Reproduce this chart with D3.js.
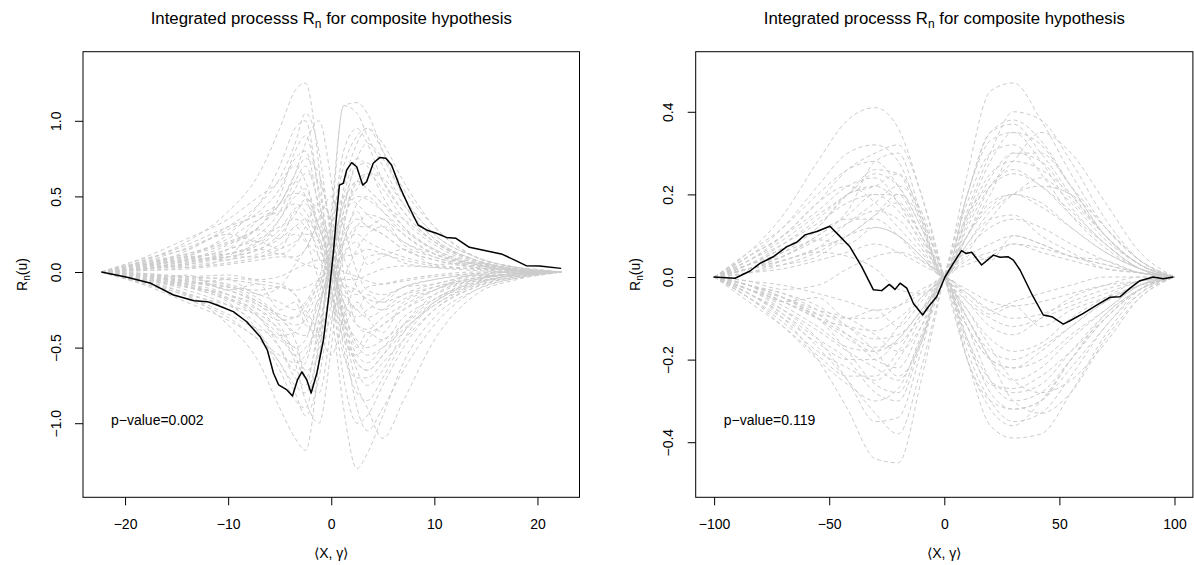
<!DOCTYPE html>
<html>
<head>
<meta charset="utf-8">
<script src="https://cdn.jsdelivr.net/npm/d3@7"></script>
<style>
body { margin: 0; background: #fff; }
svg { display: block; font-family: "Liberation Sans", Arial, Helvetica, sans-serif; }
</style>
</head>
<body>
<div class="container"></div>
<script>
// ---- left panel data ----
var leftGrid = [-22.3, -18, -14, -10, -7, -5, -3.5, -2.5, -1.2, 0, 1.2, 2.5, 3.5, 5, 7, 10, 14, 18, 22.3];

var leftBoot = [
    [0, 0.08, 0.2, 0.4, 0.65, 0.95, 1.2, 1.25, 0.7, -0.2, -0.9, -1.3, -1.2, -0.95, -0.6, -0.3, -0.12, -0.04, 0],
    [0, -0.06, -0.15, -0.35, -0.6, -0.9, -1.1, -1.18, -0.6, 0.3, 1.1, 1.05, 0.9, 0.7, 0.45, 0.22, 0.08, 0.02, 0],
    [0, 0.05, 0.1, 0.25, 0.45, 0.7, 0.95, 1.0, 0.5, -0.1, -0.7, -1.0, -0.95, -0.75, -0.5, -0.25, -0.1, -0.03, 0],
    [0, -0.04, -0.1, -0.2, -0.4, -0.65, -0.85, -0.9, -0.45, 0.2, 0.8, 0.95, 0.85, 0.6, 0.4, 0.2, 0.07, 0.02, 0],
    [0, 0.1, 0.22, 0.35, 0.5, 0.6, 0.7, 0.6, 0.3, 0, -0.4, -0.6, -0.65, -0.55, -0.4, -0.2, -0.08, -0.02, 0],
    [0, -0.08, -0.18, -0.3, -0.45, -0.55, -0.6, -0.55, -0.25, 0.1, 0.45, 0.6, 0.55, 0.45, 0.3, 0.15, 0.05, 0.01, 0],
    [0, 0.03, 0.05, 0.12, 0.2, 0.35, 0.5, 0.55, 0.25, -0.05, -0.3, -0.45, -0.5, -0.45, -0.35, -0.2, -0.06, -0.01, 0],
    [0, -0.02, -0.06, -0.1, -0.2, -0.3, -0.4, -0.42, -0.2, 0.05, 0.35, 0.5, 0.48, 0.4, 0.28, 0.15, 0.06, 0.02, 0],
    [0, 0.04, 0.08, 0.15, 0.22, 0.3, 0.35, 0.3, 0.15, 0, -0.15, -0.25, -0.3, -0.25, -0.15, -0.08, -0.03, 0, 0],
    [0, -0.03, -0.05, -0.08, -0.15, -0.2, -0.25, -0.2, -0.05, 0.05, 0.2, 0.25, 0.2, 0.15, 0.1, 0.05, 0.02, 0, 0],
    [0, 0.06, 0.12, 0.2, 0.3, 0.45, 0.6, 0.5, 0.2, -0.05, 0.2, 0.45, 0.5, 0.4, 0.25, 0.12, 0.05, 0.01, 0],
    [0, -0.05, -0.12, -0.22, -0.35, -0.5, -0.65, -0.6, -0.25, 0.02, -0.3, -0.55, -0.6, -0.5, -0.35, -0.18, -0.07, -0.02, 0],
    [0, 0.02, 0.08, 0.18, 0.3, 0.5, 0.8, 0.9, 0.55, 0.1, -0.5, -0.8, -0.85, -0.7, -0.45, -0.2, -0.07, -0.02, 0],
    [0, -0.07, -0.14, -0.25, -0.4, -0.6, -0.75, -0.8, -0.5, -0.05, 0.55, 0.85, 0.95, 0.8, 0.55, 0.3, 0.1, 0.03, 0],
    [0, -0.03, -0.08, -0.15, -0.3, -0.5, -0.7, -0.75, -0.3, 0.4, 1.1, 1.12, 1.05, 0.8, 0.5, 0.25, 0.1, 0.03, 0],
    [0, 0.02, 0.04, 0.08, 0.12, 0.18, 0.25, 0.2, 0.1, -0.05, -0.1, -0.15, -0.1, -0.08, -0.05, -0.02, 0, 0, 0],
    [0, -0.01, -0.03, -0.05, -0.08, -0.1, -0.12, -0.1, -0.05, 0.02, 0.1, 0.12, 0.15, 0.12, 0.08, 0.04, 0.02, 0.01, 0],
    [0, 0.07, 0.16, 0.28, 0.4, 0.55, 0.75, 0.8, 0.4, -0.1, -0.55, -0.7, -0.7, -0.6, -0.45, -0.25, -0.1, -0.03, 0],
    [0, -0.09, -0.2, -0.32, -0.45, -0.6, -0.8, -0.95, -0.7, -0.2, 0.3, 0.6, 0.65, 0.55, 0.35, 0.18, 0.06, 0.02, 0],
    [0, 0.05, 0.14, 0.3, 0.45, 0.62, 0.85, 1.05, 0.8, 0.2, -0.4, -0.9, -1.05, -0.9, -0.65, -0.35, -0.12, -0.04, 0],
    [0, -0.04, -0.09, -0.17, -0.28, -0.38, -0.5, -0.45, -0.15, 0.15, 0.45, 0.7, 0.72, 0.6, 0.4, 0.2, 0.08, 0.02, 0],
    [0, 0.03, 0.07, 0.12, 0.18, 0.28, 0.42, 0.45, 0.3, 0.05, -0.2, -0.35, -0.38, -0.3, -0.22, -0.12, -0.05, -0.01, 0],
    [0, -0.06, -0.1, -0.15, -0.22, -0.3, -0.35, -0.32, -0.18, -0.02, 0.12, 0.3, 0.38, 0.35, 0.25, 0.12, 0.04, 0.01, 0],
    [0, 0.01, 0.03, 0.06, 0.1, 0.15, 0.2, 0.25, 0.2, 0.02, -0.2, -0.3, -0.25, -0.18, -0.1, -0.05, -0.02, 0, 0],
    [0, -0.02, -0.04, -0.09, -0.18, -0.3, -0.45, -0.65, -0.55, -0.1, 0.4, 0.75, 0.85, 0.75, 0.5, 0.25, 0.1, 0.03, 0],
    [0, 0.08, 0.18, 0.3, 0.38, 0.45, 0.52, 0.5, 0.3, 0.05, -0.25, -0.48, -0.55, -0.5, -0.38, -0.22, -0.09, -0.03, 0],
    [0, -0.05, -0.1, -0.18, -0.25, -0.32, -0.3, -0.22, -0.08, 0.05, 0.18, 0.3, 0.3, 0.25, 0.15, 0.08, 0.03, 0.01, 0],
    [0, 0.04, 0.09, 0.15, 0.25, 0.4, 0.6, 0.7, 0.45, 0.15, -0.3, -0.6, -0.65, -0.55, -0.35, -0.15, -0.05, -0.01, 0],
    [0, -0.03, -0.07, -0.12, -0.22, -0.35, -0.55, -0.7, -0.4, 0.05, 0.5, 0.75, 0.7, 0.5, 0.3, 0.14, 0.05, 0.01, 0],
    [0, 0.02, 0.05, 0.1, 0.15, 0.22, 0.3, 0.35, 0.22, 0.05, -0.08, -0.12, -0.18, -0.2, -0.15, -0.1, -0.04, -0.01, 0],
    [0, 0.05, 0.03, 0.1, 0.28, 0.22, 0.4, 0.35, 0.1, -0.15, -0.35, -0.2, -0.3, -0.4, -0.2, -0.12, -0.02, -0.03, 0],
    [0, -0.06, -0.02, -0.12, -0.08, -0.25, -0.2, -0.35, -0.4, 0.1, 0.25, 0.4, 0.3, 0.35, 0.18, 0.1, 0.04, 0.03, 0],
    [0, 0.03, 0.1, 0.08, 0.2, 0.15, 0.3, 0.22, -0.05, -0.2, 0.1, 0.2, 0.05, 0.1, 0.15, 0.05, 0.06, 0.01, 0],
    [0, -0.02, -0.08, -0.05, -0.15, -0.1, 0.05, 0.15, 0.3, 0.2, -0.1, -0.25, -0.15, -0.2, -0.1, -0.08, -0.02, -0.02, 0],
    [0, 0.09, 0.15, 0.25, 0.2, 0.35, 0.55, 0.65, 0.6, 0.3, -0.2, -0.5, -0.4, -0.45, -0.3, -0.18, -0.06, -0.04, 0],
    [0, -0.08, -0.15, -0.22, -0.3, -0.45, -0.5, -0.7, -0.8, -0.35, 0.3, 0.6, 0.55, 0.45, 0.35, 0.2, 0.07, 0.02, 0],
    [0, 0.02, 0.06, 0.15, 0.35, 0.45, 0.65, 0.75, 0.65, 0.25, -0.3, -0.65, -0.75, -0.65, -0.4, -0.22, -0.08, -0.02, 0],
    [0, -0.05, -0.08, -0.18, -0.3, -0.42, -0.55, -0.5, -0.35, 0.05, 0.4, 0.55, 0.65, 0.62, 0.45, 0.22, 0.08, 0.02, 0],
    [0, 0.06, 0.1, 0.12, 0.15, 0.12, 0.18, 0.3, 0.45, 0.35, 0.1, -0.1, -0.2, -0.25, -0.18, -0.1, -0.04, -0.01, 0],
    [0, -0.04, -0.06, -0.1, -0.12, -0.1, -0.15, -0.3, -0.45, -0.3, -0.05, 0.15, 0.25, 0.3, 0.2, 0.12, 0.05, 0.01, 0],
    [0, 0.07, 0.12, 0.22, 0.35, 0.4, 0.45, 0.4, 0.2, -0.1, -0.45, -0.55, -0.45, -0.35, -0.25, -0.15, -0.05, -0.02, 0],
    [0, -0.07, -0.16, -0.28, -0.38, -0.42, -0.4, -0.3, -0.1, 0.2, 0.5, 0.45, 0.38, 0.3, 0.2, 0.1, 0.03, 0.01, 0],
    [0, 0.01, 0.02, 0.05, 0.08, 0.1, 0.1, 0.15, 0.35, 0.5, 0.3, 0.0, -0.12, -0.15, -0.1, -0.05, -0.01, 0, 0],
    [0, -0.01, -0.04, -0.04, -0.06, -0.08, -0.15, -0.25, -0.4, -0.55, -0.3, -0.05, 0.1, 0.12, 0.06, 0.03, 0.01, 0, 0],
    [0, 0.04, 0.08, 0.1, 0.15, 0.25, 0.38, 0.48, 0.4, 0.1, -0.35, -0.75, -0.9, -1.1, -0.85, -0.45, -0.15, -0.05, 0],
    [0, -0.05, -0.1, -0.15, -0.25, -0.4, -0.6, -0.85, -1.0, -0.5, 0.2, 0.35, 0.3, 0.25, 0.15, 0.08, 0.03, 0.01, 0],
    [0, 0.05, 0.11, 0.19, 0.3, 0.45, 0.65, 0.85, 1.0, 0.6, 0.0, -0.35, -0.4, -0.35, -0.25, -0.12, -0.04, -0.01, 0],
    [0, -0.03, -0.06, -0.12, -0.2, -0.28, -0.3, -0.25, -0.05, 0.3, 0.7, 0.9, 0.95, 0.85, 0.6, 0.3, 0.1, 0.03, 0],
    [0, 0.02, 0.06, 0.1, 0.1, 0.12, 0.08, 0.05, 0.02, -0.02, -0.05, -0.05, -0.02, 0.02, 0.04, 0.03, 0.02, 0.01, 0],
    [0, -0.02, -0.03, -0.02, -0.05, -0.03, 0.02, 0.05, 0.08, 0.05, 0.0, -0.03, -0.06, -0.08, -0.06, -0.03, -0.01, 0, 0]
];

var leftObsX = [-22.3, -19.8, -17.5, -15.3, -13.3, -12.0, -11.1, -9.5, -8.2, -6.9, -6.2, -5.6, -5.1, -4.3, -3.76,
    -3.28, -2.85, -2.37, -1.95, -1.4, -0.76, -0.28, 0.2, 0.53, 0.79, 1.17, 1.5, 1.98, 2.47, 3.05, 3.43, 4.07,
    4.72, 5.3, 5.85, 6.65, 7.46, 8.42, 9.24, 10.2, 11.17, 12.1, 13.4, 15.0, 16.6, 17.9, 18.9, 20.2, 22.3];
var leftObsY = [0, -0.035, -0.075, -0.152, -0.19, -0.196, -0.218, -0.262, -0.329, -0.428, -0.516, -0.67, -0.747, -0.78, -0.82,
    -0.714, -0.66, -0.714, -0.8, -0.67, -0.45, -0.185, 0.124, 0.388, 0.575, 0.587, 0.675, 0.723, 0.696, 0.575, 0.597, 0.719,
    0.758, 0.752, 0.708, 0.564, 0.443, 0.311, 0.278, 0.256, 0.229, 0.223, 0.163, 0.141, 0.117, 0.075, 0.042, 0.04, 0.024];

// ---- right panel data ----
var rightGrid = [-100, -85, -70, -55, -42, -30, -20, -10, 0, 10, 20, 30, 42, 55, 70, 85, 100];

var rightBoot = [
    [0, 0.06, 0.15, 0.28, 0.38, 0.41, 0.36, 0.2, 0, -0.12, -0.2, -0.22, -0.18, -0.12, -0.06, -0.02, 0],
    [0, -0.04, -0.1, -0.2, -0.32, -0.44, -0.45, -0.25, 0, 0.2, 0.35, 0.37, 0.3, 0.2, 0.1, 0.03, 0],
    [0, -0.02, -0.05, -0.1, -0.15, -0.18, -0.15, -0.08, 0, 0.25, 0.45, 0.47, 0.38, 0.25, 0.12, 0.04, 0],
    [0, 0.03, 0.08, 0.14, 0.2, 0.22, 0.18, 0.1, 0, -0.2, -0.36, -0.39, -0.38, -0.28, -0.14, -0.04, 0],
    [0, 0.05, 0.12, 0.22, 0.3, 0.32, 0.28, 0.14, 0, 0.1, 0.18, 0.2, 0.17, 0.12, 0.06, 0.02, 0],
    [0, -0.03, -0.08, -0.15, -0.25, -0.35, -0.34, -0.18, 0, -0.1, -0.2, -0.25, -0.22, -0.15, -0.08, -0.02, 0],
    [0, 0.02, 0.05, 0.1, 0.15, 0.2, 0.2, 0.1, 0, -0.08, -0.15, -0.18, -0.16, -0.1, -0.05, -0.01, 0],
    [0, -0.02, -0.04, -0.08, -0.12, -0.15, -0.14, -0.08, 0, 0.1, 0.2, 0.3, 0.3, 0.22, 0.12, 0.04, 0],
    [0, 0.04, 0.09, 0.15, 0.2, 0.25, 0.22, 0.12, 0, 0.15, 0.28, 0.35, 0.32, 0.22, 0.1, 0.03, 0],
    [0, -0.05, -0.11, -0.18, -0.22, -0.25, -0.2, -0.1, 0, -0.12, -0.25, -0.3, -0.28, -0.2, -0.1, -0.03, 0],
    [0, 0.01, 0.03, 0.06, 0.1, 0.12, 0.1, 0.05, 0, 0.05, 0.08, 0.1, 0.08, 0.05, 0.03, 0.01, 0],
    [0, -0.01, -0.02, -0.04, -0.06, -0.08, -0.07, -0.04, 0, -0.04, -0.08, -0.1, -0.09, -0.06, -0.03, -0.01, 0],
    [0, 0.03, 0.06, 0.1, 0.16, 0.28, 0.3, 0.15, 0, -0.15, -0.25, -0.28, -0.26, -0.18, -0.09, -0.03, 0],
    [0, -0.04, -0.08, -0.13, -0.18, -0.22, -0.25, -0.15, 0, 0.18, 0.3, 0.32, 0.25, 0.15, 0.07, 0.02, 0],
    [0, 0.02, 0.04, 0.07, 0.1, 0.15, 0.18, 0.1, 0, 0.12, 0.22, 0.26, 0.22, 0.16, 0.08, 0.02, 0],
    [0, -0.02, -0.05, -0.09, -0.14, -0.2, -0.22, -0.12, 0, -0.15, -0.28, -0.32, -0.3, -0.2, -0.1, -0.03, 0],
    [0, 0.05, 0.1, 0.16, 0.22, 0.24, 0.18, 0.08, 0, -0.06, -0.1, -0.12, -0.1, -0.07, -0.04, -0.01, 0],
    [0, -0.03, -0.07, -0.12, -0.17, -0.18, -0.12, -0.05, 0, 0.07, 0.12, 0.14, 0.12, 0.08, 0.04, 0.01, 0],
    [0, 0.02, 0.05, 0.09, 0.13, 0.16, 0.14, 0.07, 0, 0.2, 0.35, 0.38, 0.33, 0.22, 0.1, 0.03, 0],
    [0, -0.04, -0.09, -0.15, -0.2, -0.28, -0.3, -0.16, 0, -0.18, -0.3, -0.35, -0.33, -0.24, -0.12, -0.04, 0],
    [0, 0.03, 0.07, 0.12, 0.2, 0.22, 0.25, 0.15, 0, -0.1, -0.18, -0.2, -0.17, -0.12, -0.06, -0.02, 0],
    [0, -0.02, -0.06, -0.1, -0.14, -0.17, -0.16, -0.09, 0, 0.08, 0.16, 0.2, 0.24, 0.18, 0.09, 0.03, 0],
    [0, 0.01, 0.02, 0.04, 0.06, 0.08, 0.06, 0.03, 0, -0.03, -0.06, -0.07, -0.06, -0.04, -0.02, -0.01, 0],
    [0, -0.03, -0.06, -0.1, -0.12, -0.13, -0.1, -0.05, 0, 0.04, 0.06, 0.08, 0.07, 0.05, 0.03, 0.01, 0],
    [0, 0.04, 0.08, 0.13, 0.18, 0.2, 0.16, 0.09, 0, 0.13, 0.24, 0.3, 0.28, 0.19, 0.1, 0.03, 0],
    [0, -0.05, -0.12, -0.2, -0.26, -0.3, -0.27, -0.14, 0, 0.1, 0.17, 0.2, 0.18, 0.12, 0.06, 0.02, 0],
    [0, 0.03, 0.05, 0.09, 0.08, 0.12, 0.1, 0.05, 0, 0.06, 0.04, 0.1, 0.08, 0.05, 0.04, 0.01, 0],
    [0, -0.02, -0.06, -0.05, -0.1, -0.08, -0.12, -0.06, 0, -0.05, -0.09, -0.07, -0.12, -0.08, -0.05, -0.02, 0],
    [0, 0.04, 0.1, 0.18, 0.26, 0.3, 0.32, 0.2, 0, -0.2, -0.3, -0.32, -0.3, -0.22, -0.12, -0.03, 0],
    [0, -0.04, -0.09, -0.17, -0.25, -0.33, -0.38, -0.22, 0, 0.15, 0.22, 0.25, 0.22, 0.15, 0.08, 0.02, 0],
    [0, 0.02, 0.04, 0.06, 0.05, 0.02, -0.03, -0.04, 0, 0.1, 0.22, 0.28, 0.35, 0.3, 0.18, 0.06, 0],
    [0, -0.01, -0.03, -0.02, 0.02, 0.05, 0.06, 0.04, 0, -0.1, -0.2, -0.3, -0.33, -0.28, -0.15, -0.05, 0],
    [0, 0.05, 0.1, 0.18, 0.22, 0.18, 0.12, 0.06, 0, 0.08, 0.14, 0.15, 0.1, 0.06, 0.02, 0.01, 0],
    [0, -0.05, -0.1, -0.16, -0.2, -0.2, -0.15, -0.08, 0, -0.06, -0.12, -0.14, -0.1, -0.05, -0.02, 0, 0],
    [0, 0.02, 0.06, 0.12, 0.2, 0.26, 0.25, 0.13, 0, 0.16, 0.3, 0.4, 0.38, 0.28, 0.14, 0.04, 0],
    [0, -0.02, -0.05, -0.1, -0.18, -0.26, -0.28, -0.15, 0, -0.2, -0.32, -0.36, -0.3, -0.2, -0.09, -0.03, 0],
    [0, 0.01, 0.04, 0.07, 0.13, 0.18, 0.22, 0.16, 0, -0.12, -0.2, -0.22, -0.2, -0.14, -0.08, -0.02, 0],
    [0, -0.03, -0.05, -0.08, -0.1, -0.14, -0.18, -0.12, 0, 0.14, 0.25, 0.28, 0.26, 0.2, 0.1, 0.03, 0],
    [0, 0.06, 0.12, 0.2, 0.26, 0.28, 0.22, 0.12, 0, -0.04, -0.08, -0.06, -0.04, -0.02, 0, 0, 0],
    [0, -0.06, -0.12, -0.19, -0.24, -0.24, -0.18, -0.09, 0, 0.03, 0.05, 0.08, 0.06, 0.04, 0.02, 0.01, 0],
    [0, 0.02, 0.03, 0.05, 0.1, 0.15, 0.2, 0.14, 0, 0.2, 0.33, 0.35, 0.28, 0.17, 0.08, 0.02, 0],
    [0, -0.02, -0.04, -0.07, -0.12, -0.18, -0.24, -0.16, 0, -0.16, -0.26, -0.27, -0.24, -0.18, -0.1, -0.03, 0],
    [0, 0.03, 0.07, 0.11, 0.14, 0.14, 0.1, 0.04, 0, -0.08, -0.17, -0.25, -0.28, -0.25, -0.16, -0.05, 0],
    [0, -0.03, -0.06, -0.09, -0.1, -0.1, -0.07, -0.03, 0, 0.06, 0.14, 0.2, 0.22, 0.2, 0.12, 0.04, 0]
];

var rightObsX = [-100.3, -90.9, -84.4, -80.1, -74.3, -68.5, -64.1, -60.5, -55.4, -49.7, -46.0, -41.0, -35.9, -30.8,
    -27.2, -23.9, -21.4, -19.2, -16.3, -13.4, -9.4, -6.9, -3.3, 0.3, 3.9, 7.5, 9.4, 11.9, 16.2, 21.3, 24.2, 27.8,
    30.0, 32.9, 37.9, 43.0, 46.7, 51.7, 54.6, 60.4, 66.2, 72.0, 76.3, 80.7, 85.0, 90.8, 95.1, 99.5];
var rightObsY = [0, -0.003, 0.0145, 0.033, 0.049, 0.073, 0.084, 0.102, 0.11, 0.123, 0.102, 0.073, 0.025, -0.031,
    -0.033, -0.018, -0.03, -0.015, -0.027, -0.064, -0.092, -0.072, -0.048, 0, 0.033, 0.064, 0.057, 0.06, 0.029, 0.053, 0.048, 0.049,
    0.041, 0.017, -0.04, -0.092, -0.096, -0.114, -0.106, -0.088, -0.068, -0.049, -0.048, -0.027, -0.009, 0, -0.004, 0];

// ---- axis / text ----
var leftXTicks = [-20, -10, 0, 10, 20];
var leftYTicks = [-1, -0.5, 0, 0.5, 1];
var rightXTicks = [-100, -50, 0, 50, 100];
var rightYTicks = [-0.4, -0.2, 0, 0.2, 0.4];
var pValueLabels = ['p\u2212value=0.002', 'p\u2212value=0.119'];

var W = 1194, H = 565;
var BOX_TOP = 51.7, BOX_BOTTOM = 497.3;

var minus = s => s.replace('-', '\u2212');

var svg = d3.select('.container').append('svg')
    .attr('width', W)
    .attr('height', H);

var drawPanel = ({left, right, xDomain, yDomain, grid, boot, obsX, obsY, xTicks, yTicks, yFmt, pLabel}) => {
    var x = d3.scaleLinear().domain(xDomain).range([left, right]);
    var y = d3.scaleLinear().domain(yDomain).range([BOX_BOTTOM, BOX_TOP]);
    var cx = (left + right) / 2;

    var g = svg.append('g');

    var line = d3.line()
        .x(d => x(d[0]))
        .y(d => y(d[1]))
        .curve(d3.curveMonotoneX);

    // bootstrap curves
    g.append('g').selectAll('path')
        .data(boot)
        .enter().append('path')
        .attr('d', vals => line(grid.map((gx, i) => [gx, vals[i]])))
        .attr('fill', 'none')
        .attr('stroke', '#cccccc')
        .attr('stroke-width', 1)
        .attr('stroke-dasharray', '4,3');

    // observed process
    g.append('path')
        .attr('d', d3.line().x(d => x(d[0])).y(d => y(d[1]))(obsX.map((v, i) => [v, obsY[i]])))
        .attr('fill', 'none')
        .attr('stroke', '#000')
        .attr('stroke-width', 1.5)
        .attr('stroke-linejoin', 'round');

    // box
    g.append('rect')
        .attr('x', left).attr('y', BOX_TOP)
        .attr('width', right - left).attr('height', BOX_BOTTOM - BOX_TOP)
        .attr('fill', 'none').attr('stroke', '#000').attr('stroke-width', 1);

    // x axis
    var xa = g.append('g')
        .attr('transform', `translate(0,${BOX_BOTTOM})`)
        .call(d3.axisBottom(x).tickValues(xTicks).tickSize(8).tickPadding(14)
            .tickFormat(d => minus(String(d))));
    xa.select('.domain').remove();
    xa.selectAll('text').attr('font-size', 14).attr('font-family', null).attr('fill', '#000');
    xa.selectAll('line').attr('stroke', '#000');

    // y axis
    var ya = g.append('g')
        .attr('transform', `translate(${left},0)`)
        .call(d3.axisLeft(y).tickValues(yTicks).tickSize(8).tickFormat(yFmt));
    ya.select('.domain').remove();
    ya.selectAll('line').attr('stroke', '#000');
    ya.selectAll('text')
        .attr('font-size', 14).attr('font-family', null).attr('fill', '#000')
        .attr('text-anchor', 'middle')
        .attr('x', 0).attr('y', -27.5).attr('dy', '0.36em')
        .attr('transform', 'rotate(-90)');

    // title
    var t = g.append('text')
        .attr('x', cx).attr('y', 24)
        .attr('text-anchor', 'middle')
        .attr('font-size', 16.8);
    t.append('tspan').text('Integrated processs R');
    t.append('tspan').attr('font-size', 12).attr('baseline-shift', '-3.5').text('n');
    t.append('tspan').text(' for composite hypothesis');

    // x label
    g.append('text')
        .attr('x', x(0)).attr('y', 558)
        .attr('text-anchor', 'middle')
        .attr('font-size', 14)
        .text('\u27E8X, \u03B3\u27E9');

    // y label
    var yl = g.append('text')
        .attr('transform', `translate(${left - 56},${(BOX_TOP + BOX_BOTTOM) / 2}) rotate(-90)`)
        .attr('text-anchor', 'middle')
        .attr('font-size', 14);
    yl.append('tspan').text('R');
    yl.append('tspan').attr('font-size', 10).attr('baseline-shift', '-3').text('n');
    yl.append('tspan').text('(u)');

    // p-value
    g.append('text')
        .attr('x', left + 28).attr('y', BOX_BOTTOM - 72)
        .attr('font-size', 14)
        .text(pLabel);
};

drawPanel({
    left: 83, right: 579.5,
    xDomain: [-24.08, 24.08], yDomain: [-1.49, 1.457],
    grid: leftGrid, boot: leftBoot, obsX: leftObsX, obsY: leftObsY,
    xTicks: leftXTicks, yTicks: leftYTicks,
    yFmt: d => minus(d3.format('.1f')(d)),
    pLabel: pValueLabels[0]
});

drawPanel({
    left: 695.7, right: 1192.9,
    xDomain: [-108, 108], yDomain: [-0.5334, 0.5455],
    grid: rightGrid, boot: rightBoot, obsX: rightObsX, obsY: rightObsY,
    xTicks: rightXTicks, yTicks: rightYTicks,
    yFmt: d => minus(d3.format('.1f')(d)),
    pLabel: pValueLabels[1]
});
</script>
</body>
</html>
